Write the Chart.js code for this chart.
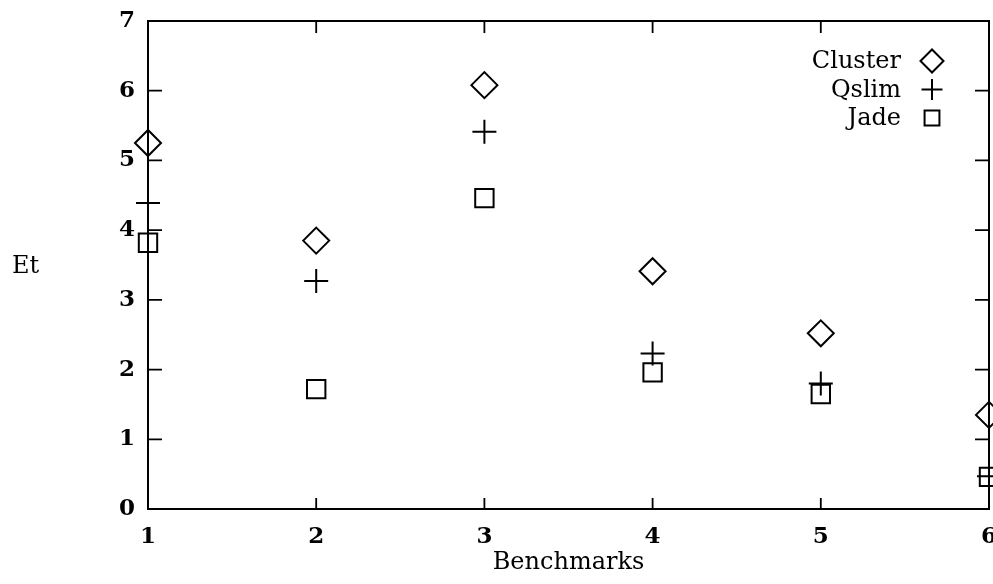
<!DOCTYPE html>
<html>
<head>
<meta charset="utf-8">
<style>
  html, body { margin: 0; padding: 0; background: #ffffff; overflow: hidden; width: 993px; height: 584px; }
  canvas { display: block; }
</style>
<script src="https://cdn.jsdelivr.net/npm/chart.js@4.4.1/dist/chart.umd.min.js"></script>
</head>
<body>
<canvas id="c" width="1004" height="584"></canvas>
<script>
// Benchmark index on the x axis, Et on the y axis
const benchmarks = [1, 2, 3, 4, 5, 6];
const clusterEt = [5.25, 3.85, 6.08, 3.41, 2.52, 1.35];
const qslimEt   = [4.39, 3.27, 5.41, 2.23, 1.80, 0.47];
const jadeEt    = [3.82, 1.72, 4.46, 1.96, 1.65, 0.46];
const seriesNames = ['Cluster', 'Qslim', 'Jade'];
const xTitle = 'Benchmarks';
const yTitle = 'Et';

const FONT = '"DejaVu Serif", "Liberation Serif", serif';
const INK = '#000000';

function toPoints(values) {
  return benchmarks.map((b, i) => ({ x: b, y: values[i] }));
}

function markerDataset(label, values, style, radius, keyRadius) {
  return {
    label: label,
    data: toPoints(values),
    pointStyle: style,
    pointRadius: radius,
    pointHoverRadius: radius,
    pointBorderWidth: 2,
    pointBorderColor: INK,
    pointBackgroundColor: 'rgba(0,0,0,0)',
    borderColor: INK,
    showLine: false,
    clip: false,
    keyRadius: keyRadius
  };
}

// Frame with inward ticks on all four sides, the unrotated y title and the key
const framePlugin = {
  id: 'frame',
  afterDraw(chart) {
    const ctx = chart.ctx;
    const a = chart.chartArea;
    const xs = chart.scales.x;
    const ys = chart.scales.y;
    ctx.save();
    ctx.strokeStyle = INK;
    ctx.lineWidth = 2;
    ctx.strokeRect(a.left, a.top, a.right - a.left, a.bottom - a.top);

    ctx.lineWidth = 1.8;
    ctx.beginPath();
    xs.ticks.forEach(t => {
      const px = xs.getPixelForValue(t.value);
      ctx.moveTo(px, a.bottom); ctx.lineTo(px, a.bottom - 11);
      ctx.moveTo(px, a.top);    ctx.lineTo(px, a.top + 12);
    });
    ys.ticks.forEach(t => {
      const py = ys.getPixelForValue(t.value);
      ctx.moveTo(a.left, py);  ctx.lineTo(a.left + 14, py);
      ctx.moveTo(a.right, py); ctx.lineTo(a.right - 14, py);
    });
    ctx.stroke();

    // y title, written horizontally
    ctx.fillStyle = INK;
    ctx.font = '24px ' + FONT;
    ctx.textAlign = 'left';
    ctx.textBaseline = 'middle';
    ctx.fillText(yTitle, 12, (a.top + a.bottom) / 2 + 2);

    // key: name right-aligned, marker to its right
    const keyTextRight = 901;
    const keyMarkX = 932;
    const keyTop = 61;
    const keyStep = 28.5;
    chart.data.datasets.forEach((ds, i) => {
      const y = keyTop + i * keyStep;
      ctx.fillStyle = INK;
      ctx.textAlign = 'right';
      ctx.textBaseline = 'middle';
      ctx.fillText(ds.label, keyTextRight, y + 1);
      ctx.strokeStyle = INK;
      ctx.fillStyle = 'rgba(0,0,0,0)';
      ctx.lineWidth = 2;
      Chart.helpers.drawPoint(ctx, {
        pointStyle: ds.pointStyle,
        radius: ds.keyRadius,
        borderWidth: 2,
        rotation: 0
      }, keyMarkX, y);
    });
    ctx.restore();
  }
};

new Chart(document.getElementById('c'), {
  type: 'scatter',
  data: {
    datasets: [
      markerDataset(seriesNames[0], clusterEt, 'rectRot', 13, 11.5),
      markerDataset(seriesNames[1], qslimEt, 'cross', 12, 10.5),
      markerDataset(seriesNames[2], jadeEt, 'rect', 13, 10.5)
    ]
  },
  options: {
    responsive: false,
    animation: false,
    devicePixelRatio: 1,
    layout: { padding: { left: 0, top: 21, right: 0, bottom: 0 } },
    plugins: {
      legend: { display: false },
      tooltip: { enabled: false }
    },
    scales: {
      x: {
        type: 'linear',
        min: 1,
        max: 6,
        grid: { display: false, drawTicks: false },
        border: { display: false },
        ticks: {
          stepSize: 1,
          padding: 14,
          color: INK,
          font: { family: FONT, size: 23, weight: 'bold' }
        },
        title: {
          display: true,
          text: xTitle,
          color: INK,
          padding: { top: 0, bottom: 7 },
          font: { family: FONT, size: 24 }
        },
        afterFit(scale) {
          scale.height = 75;
          scale.paddingLeft = 0;
          scale.paddingRight = 0;
        }
      },
      y: {
        type: 'linear',
        min: 0,
        max: 7,
        grid: { display: false, drawTicks: false },
        border: { display: false },
        ticks: {
          stepSize: 1,
          padding: 13,
          color: INK,
          font: { family: FONT, size: 23, weight: 'bold' }
        },
        afterFit(scale) {
          scale.width = 148;
          scale.paddingTop = 0;
          scale.paddingBottom = 0;
        }
      }
    }
  },
  plugins: [framePlugin]
});
</script>
</body>
</html>
